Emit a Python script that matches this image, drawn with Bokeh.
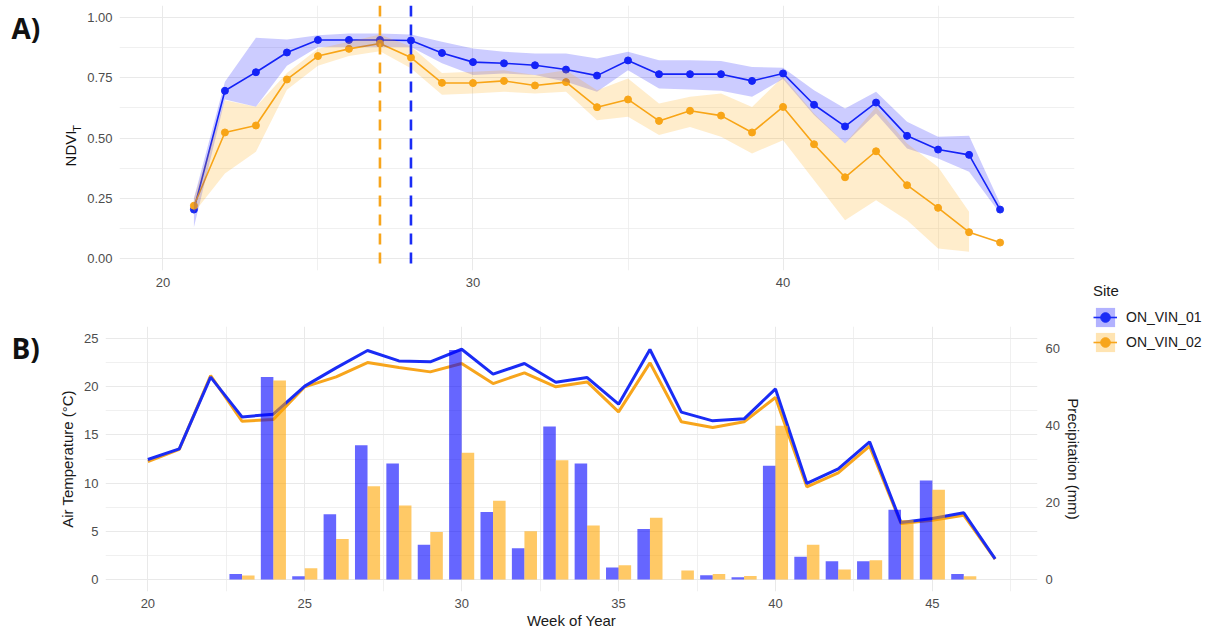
from math import pi

from bokeh.core.properties import value
from bokeh.embed import file_html
from bokeh.layouts import column, row
from bokeh.models import (FixedTicker, Legend, LegendItem, LinearAxis,
                          PrintfTickFormatter, Range1d, Span)
from bokeh.plotting import figure
from bokeh.resources import INLINE

# ---------------------------------------------------------------- data
sites = ["ON_VIN_01", "ON_VIN_02"]

# panel A: weekly NDVI_T per site (mean with a min/max band)
ndvi_weeks = list(range(21, 48))
ndvi_01 = [0.203, 0.696, 0.773, 0.855, 0.907, 0.907, 0.907, 0.905, 0.853,
           0.815, 0.810, 0.802, 0.784, 0.759, 0.822, 0.765, 0.765, 0.765,
           0.737, 0.768, 0.638, 0.548, 0.647, 0.509, 0.452, 0.430, 0.203]
ndvi_02 = [0.219, 0.523, 0.552, 0.743, 0.840, 0.870, 0.892, 0.834, 0.729,
           0.728, 0.737, 0.718, 0.732, 0.628, 0.660, 0.571, 0.613, 0.593,
           0.523, 0.629, 0.474, 0.337, 0.445, 0.304, 0.210, 0.109, 0.066]
ndvi_lo_01 = [0.13, 0.66, 0.63, 0.80, 0.878, 0.878, 0.878, 0.878, 0.81,
              0.761, 0.768, 0.761, 0.733, 0.692, 0.781, 0.705, 0.701, 0.696,
              0.671, 0.745, 0.595, 0.477, 0.602, 0.456, 0.415, 0.36, 0.187]
ndvi_hi_01 = [0.25, 0.733, 0.916, 0.909, 0.927, 0.934, 0.934, 0.93, 0.90,
              0.871, 0.858, 0.851, 0.851, 0.83, 0.858, 0.823, 0.823, 0.82,
              0.795, 0.792, 0.698, 0.622, 0.692, 0.567, 0.505, 0.509, 0.228]
# the ON_VIN_02 band stops at week 46
ndvi_lo_02 = [0.19, 0.353, 0.443, 0.70, 0.80, 0.84, 0.86, 0.79, 0.68,
              0.685, 0.692, 0.685, 0.692, 0.574, 0.588, 0.512, 0.546, 0.505,
              0.436, 0.491, 0.325, 0.159, 0.242, 0.159, 0.041, 0.028]
ndvi_hi_02 = [0.25, 0.657, 0.63, 0.77, 0.87, 0.90, 0.93, 0.88, 0.77,
              0.775, 0.781, 0.761, 0.781, 0.698, 0.747, 0.643, 0.671, 0.685,
              0.629, 0.754, 0.602, 0.477, 0.629, 0.477, 0.38, 0.194]
peak_week_01 = 28
peak_week_02 = 27

# panel B: weekly air temperature (degC) and precipitation (mm)
clim_weeks = list(range(20, 48))
temp_01 = [12.45, 13.55, 21.0, 16.87, 17.15, 20.06, 21.96, 23.76, 22.68,
           22.58, 23.89, 21.30, 22.41, 20.47, 20.95, 18.19, 23.86, 17.36,
           16.46, 16.67, 19.78, 9.96, 11.48, 14.28, 5.91, 6.33, 6.92, 2.14]
temp_02 = [12.24, 13.49, 21.16, 16.42, 16.6, 19.99, 21.02, 22.51, 21.99,
           21.54, 22.41, 20.33, 21.44, 19.99, 20.5, 17.39, 22.48, 16.36,
           15.77, 16.36, 18.88, 9.61, 11.07, 13.83, 5.81, 6.15, 6.67, 2.1]
precip_01 = [0, 0, 0, 1.4, 52.5, 0.8, 16.9, 34.8, 30.1, 9.0, 59.5, 17.5,
             8.1, 39.7, 30.1, 3.1, 13.1, 0, 1.1, 0.6, 29.5, 5.9, 4.7, 4.7,
             18.1, 25.7, 1.4, 0]
precip_02 = [0, 0, 0, 1.0, 51.6, 2.9, 10.5, 24.2, 19.2, 12.3, 32.9, 20.4,
             12.5, 30.9, 14.0, 3.7, 16.0, 2.3, 1.4, 0.9, 39.9, 9.0, 2.6, 5.0,
             15.4, 23.3, 0.8, 0]
MM_PER_DEGREE = 2.5  # secondary axis: precipitation = 2.5 x temperature scale

# ---------------------------------------------------------------- style
BLUE = "#1a2cf5"
ORANGE = "#f7a51c"
FONT = "Liberation Sans"
GRID = "#e9e9e9"
GAP = 4  # the row layout leaves this many pixels between its children


def style_axis(ax):
    ax.axis_line_color = None
    ax.major_tick_line_color = None
    ax.minor_tick_line_color = None
    ax.major_tick_out = 0
    ax.major_tick_in = 0
    ax.minor_tick_out = 0
    ax.minor_tick_in = 0
    ax.major_label_standoff = 7
    ax.major_label_text_font = FONT
    ax.major_label_text_font_size = "13px"
    ax.major_label_text_color = "#4d4d4d"
    ax.axis_label_text_font = FONT
    ax.axis_label_text_font_size = "15px"
    ax.axis_label_text_font_style = "normal"
    ax.axis_label_text_color = "#1a1a1a"


def style_grid(p):
    for g in p.grid:
        g.grid_line_color = GRID
        g.grid_line_width = 1
        g.minor_grid_line_color = GRID
        g.minor_grid_line_width = 0.7


def text_strip(width, height):
    """Blank pixel-scaled figure (y grows downwards) used for margin texts."""
    return figure(width=width, height=height,
                  x_range=Range1d(0, width), y_range=Range1d(height, 0),
                  x_axis_type=None, y_axis_type=None, min_border=0,
                  outline_line_color=None, toolbar_location=None,
                  output_backend="svg", frame_align=False)


def strip_text(p, text, x, y, size, angle=0.0, bold=False, font=FONT,
               align="left", baseline="middle"):
    p.text(x=[x], y=[y], text=[text], angle=angle,
           text_font=value(font), text_font_size=size,
           text_font_style="bold" if bold else "normal",
           text_align=align, text_baseline=baseline, text_color="#111111")


# ---------------------------------------------------------------- panel A
top = figure(frame_width=955, frame_height=265,
             min_border_left=32, min_border_right=10,
             min_border_top=5, min_border_bottom=30,
             x_range=Range1d(18.6, 49.4), y_range=Range1d(-0.05, 1.05),
             output_backend="svg", toolbar_location=None,
             outline_line_color=None, background_fill_color="white",
             frame_align=False)
top.xaxis.ticker = FixedTicker(ticks=[20, 30, 40], minor_ticks=[25, 35, 45])
top.yaxis.ticker = FixedTicker(ticks=[0, 0.25, 0.5, 0.75, 1.0],
                               minor_ticks=[0.125, 0.375, 0.625, 0.875])
top.yaxis.formatter = PrintfTickFormatter(format="%.2f")
for ax in top.axis:
    style_axis(ax)
style_grid(top)

for vals, col in ((ndvi_01, BLUE), (ndvi_02, ORANGE)):
    top.line(ndvi_weeks, vals, line_color=col, line_width=1.6)
    top.scatter(ndvi_weeks, vals, size=7, fill_color=col, line_color=col)

top.varea(x=ndvi_weeks, y1=ndvi_lo_01, y2=ndvi_hi_01,
          fill_color="#0000ff", fill_alpha=0.2)
top.varea(x=ndvi_weeks[:len(ndvi_lo_02)], y1=ndvi_lo_02, y2=ndvi_hi_02,
          fill_color="#ffa500", fill_alpha=0.2)

for wk, col in ((peak_week_02, ORANGE), (peak_week_01, BLUE)):
    top.add_layout(Span(location=wk, dimension="height", line_color=col,
                        line_width=2.6, line_dash="11 8"))

# margin strip: panel tag and the y title NDVI with a subscript T
top_strip = text_strip(88 - GAP, 300)
strip_text(top_strip, "A)", 11, 27, "28px", bold=True, font="Open Sans")
strip_text(top_strip, "NDVI", 70, 148, "15px", angle=pi / 2, align="center")
strip_text(top_strip, "T", 76, 128, "11px", angle=pi / 2, align="center")

# ---------------------------------------------------------------- panel B
bot = figure(frame_width=932, frame_height=265,
             min_border_left=45, min_border_right=48,
             min_border_top=26, min_border_bottom=41,
             x_range=Range1d(18.65, 48.35), y_range=Range1d(-1.25, 26.25),
             output_backend="svg", toolbar_location=None,
             outline_line_color=None, background_fill_color="white",
             frame_align=False)
bot.extra_y_ranges = {"precip": Range1d(-1.25 * MM_PER_DEGREE,
                                        26.25 * MM_PER_DEGREE)}
bot.xaxis.ticker = FixedTicker(ticks=[20, 25, 30, 35, 40, 45],
                               minor_ticks=[22.5, 27.5, 32.5, 37.5, 42.5, 47.5])
bot.yaxis.ticker = FixedTicker(ticks=[0, 5, 10, 15, 20, 25],
                               minor_ticks=[2.5, 7.5, 12.5, 17.5, 22.5])
bot.xaxis.axis_label = "Week of Year"
bot.yaxis.axis_label = "Air Temperature (°C)"
right_ax = LinearAxis(y_range_name="precip", axis_label="Precipitation (mm)",
                      ticker=FixedTicker(ticks=[0, 20, 40, 60]))
bot.add_layout(right_ax, "right")
for ax in bot.axis:
    style_axis(ax)
bot.xaxis.major_label_standoff = 7
bot.xaxis.axis_label_standoff = 1
bot.yaxis.axis_label_standoff = 5
right_ax.major_label_standoff = 8
right_ax.axis_label_standoff = 2
style_grid(bot)

bot.line(clim_weeks, temp_02, line_color=ORANGE, line_width=3)
bot.line(clim_weeks, temp_01, line_color=BLUE, line_width=3)

dodge = 0.2
bot.vbar(x=[w - dodge for w in clim_weeks], top=precip_01, width=0.4,
         bottom=0, y_range_name="precip", fill_color="#0000ff",
         fill_alpha=0.6, line_color=None)
bot.vbar(x=[w + dodge for w in clim_weeks], top=precip_02, width=0.4,
         bottom=0, y_range_name="precip", fill_color="#ffa500",
         fill_alpha=0.6, line_color=None)

bot_strip = text_strip(60 - GAP, 332)
strip_text(bot_strip, "B)", 11, 47, "28px", bold=True, font="Open Sans")

# ---------------------------------------------------------------- legend
leg = figure(width=123 - GAP, height=632, x_range=Range1d(0, 1),
             y_range=Range1d(0, 1), x_axis_type=None, y_axis_type=None,
             min_border=0, outline_line_color=None, toolbar_location=None,
             output_backend="svg", frame_align=False)
items = []
for name, col, fill in ((sites[0], BLUE, "#0000ff"), (sites[1], ORANGE, "#ffa500")):
    band = leg.varea(x=[5, 6], y1=[5, 5], y2=[6, 6], fill_color=fill,
                     fill_alpha=0.3)
    ln = leg.line([5, 6], [5, 5], line_color=col, line_width=1.6)
    pt = leg.scatter([5], [5], size=6, fill_color=col, line_color=col)
    items.append(LegendItem(label=name, renderers=[band, ln, pt]))
legend = Legend(items=items, location=(12 - GAP, 278), title="Site",
                title_text_font=FONT, title_text_font_size="15px",
                title_text_color="#1a1a1a", title_text_font_style="normal",
                title_standoff=6,
                label_text_font=FONT, label_text_font_size="14px",
                label_text_color="#1a1a1a", label_standoff=9,
                glyph_width=24, glyph_height=24, label_height=24,
                spacing=1, padding=0, margin=0,
                border_line_color=None, background_fill_alpha=0)
leg.add_layout(legend, "center")

layout = row(column(row(top_strip, top), row(bot_strip, bot)), leg)
open("out.html", "w").write(file_html(layout, INLINE))
